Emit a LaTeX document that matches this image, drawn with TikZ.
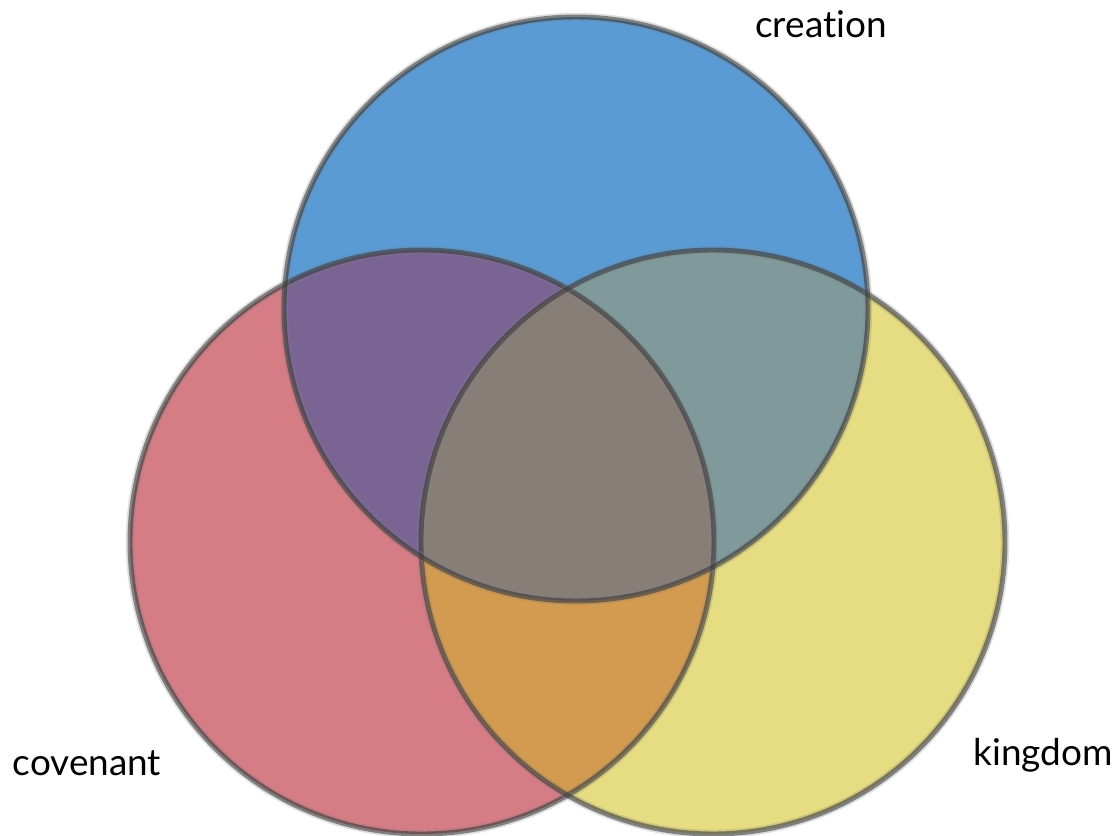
\documentclass[tikz,border=0pt]{standalone}
\usepackage{fontspec}
\setmainfont[Ligatures={NoCommon,NoRare}]{Lato}
\definecolor{CreaBlue}{RGB}{90,155,213}
\definecolor{CoveRed}{RGB}{213,124,133}
\definecolor{KingYellow}{RGB}{230,220,130}
\definecolor{BlueRed}{RGB}{122,100,148}
\definecolor{BlueYellow}{RGB}{128,154,156}
\definecolor{RedYellow}{RGB}{210,155,80}
\definecolor{AllThree}{RGB}{136,126,120}
\tikzset{
  rim/.style = {draw=black!80, draw opacity=0.55, line width=1.4pt},% contour of a circle
  haze/.style = {draw=black!50, draw opacity=0.25, line width=2.4pt},% soft edge
  vlabel/.style = {font=\fontsize{10.5}{12}\selectfont, anchor=base,
    inner sep=0pt, text=black}
}
\newcommand{\rad}{292}
\begin{document}
\begin{tikzpicture}[x=0.01cm, y=-0.01cm]
  \useasboundingbox (0,0) rectangle (1120,836);
  \coordinate (crea) at (576,309);
  \coordinate (cove) at (422,542);
  \coordinate (king) at (713,542);
  % single circles
  \fill [CoveRed] (cove) circle (\rad);
  \fill [KingYellow] (king) circle (\rad);
  \fill [CreaBlue] (crea) circle (\rad);
  % pairwise overlaps
  \begin{scope}
    \clip (crea) circle (\rad);
    \fill [BlueRed] (cove) circle (\rad);
    \fill [BlueYellow] (king) circle (\rad);
  \end{scope}
  \begin{scope}
    \clip (cove) circle (\rad);
    \fill [RedYellow] (king) circle (\rad);
  \end{scope}
  % middle
  \begin{scope}
    \clip (crea) circle (\rad);
    \clip (cove) circle (\rad);
    \fill [AllThree] (king) circle (\rad);
  \end{scope}
  % contours
  \foreach \c in {cove, king, crea} {
    \draw [haze] (\c) circle (\rad);
    \draw [rim] (\c) circle (\rad);
  }
  \node [vlabel] (creation) at (821,37) {creation};
  \node [vlabel] (covenant) at (87,775) {covenant};
  \node [vlabel] (kingdom) at (1043,765) {kingdom};
\end{tikzpicture}
\end{document}
